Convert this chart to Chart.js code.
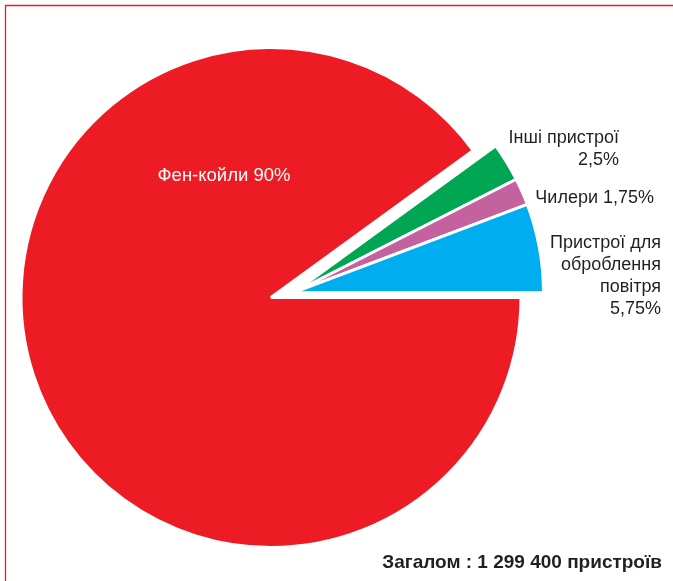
<!DOCTYPE html>
<html>
<head>
<meta charset="utf-8">
<script src="https://cdn.jsdelivr.net/npm/chart.js@4/dist/chart.umd.min.js"></script>
<style>
    body { margin: 0; background: #fff; }
    canvas { display: block; }
</style>
</head>
<body>
<canvas id="pieChart" width="673" height="581"></canvas>
<script>
// slices, clockwise from 3 o'clock
const categories = ['Фен-койли', 'Інші пристрої', 'Чилери', 'Пристрої для оброблення повітря'];
const shares = [90, 2.5, 1.75, 5.75];
const shareLabels = ['90%', '2,5%', '1,75%', '5,75%'];
const sliceColors = ['#ed1c24', '#00a651', '#c4619f', '#00aeef'];
const pulledOut = [false, true, true, true];
const pullDistance = 23;
const pullAngleDeg = -12;
const totalText = 'Загалом : 1 299 400 пристроїв';

const FONT = '"Liberation Sans", Arial, Helvetica, sans-serif';

// pull the small slices out together, as one group
const pullGroup = {
    id: 'pullGroup',
    afterDatasetUpdate(chart, args) {
        const a = pullAngleDeg * Math.PI / 180;
        args.meta.data.forEach((arc, i) => {
            if (!pulledOut[i]) return;
            arc.x += Math.cos(a) * pullDistance;
            arc.y += Math.sin(a) * pullDistance;
        });
    }
};

const frameAndText = {
    id: 'frameAndText',
    beforeDraw(chart) {
        const ctx = chart.ctx;
        ctx.save();
        ctx.strokeStyle = '#ed1c24';
        ctx.lineWidth = 1.3;
        ctx.beginPath();
        ctx.moveTo(5.5, chart.height);
        ctx.lineTo(5.5, 5.5);
        ctx.lineTo(chart.width, 5.5);
        ctx.stroke();
        ctx.restore();
    },
    afterDraw(chart) {
        const ctx = chart.ctx;
        const arc = chart.getDatasetMeta(0).data[0];
        const cx = arc.x, cy = arc.y;
        ctx.save();
        ctx.textBaseline = 'middle';
        ctx.font = '18.5px ' + FONT;

        ctx.fillStyle = '#ffffff';
        ctx.textAlign = 'center';
        ctx.fillText(categories[0] + ' ' + shareLabels[0], cx - 47, cy - 122);

        ctx.fillStyle = '#231f20';
        ctx.textAlign = 'right';
        ctx.font = '18px ' + FONT;
        ctx.fillText(categories[1], cx + 348, cy - 159);
        ctx.fillText(shareLabels[1], cx + 348, cy - 137);
        ctx.fillText(categories[2] + ' ' + shareLabels[2], cx + 383, cy - 99);
        const lines = ['Пристрої для', 'оброблення', 'повітря', shareLabels[3]];
        lines.forEach((t, i) => ctx.fillText(t, cx + 390, cy - 54 + i * 22));

        ctx.font = 'bold 19px ' + FONT;
        ctx.fillText(totalText, chart.width - 11, chart.height - 18);
        ctx.restore();
    }
};

new Chart(document.getElementById('pieChart'), {
    type: 'pie',
    data: {
        labels: categories,
        datasets: [{
            data: shares,
            backgroundColor: sliceColors,
            borderColor: '#ffffff',
            borderWidth: 3
        }]
    },
    options: {
        responsive: false,
        animation: false,
        events: [],
        rotation: 90,
        radius: 250,
        layout: { padding: { left: 0, right: 131, top: 14, bottom: 0 } },
        plugins: {
            legend: { display: false },
            tooltip: { enabled: false }
        }
    },
    plugins: [pullGroup, frameAndText]
});
</script>
</body>
</html>
